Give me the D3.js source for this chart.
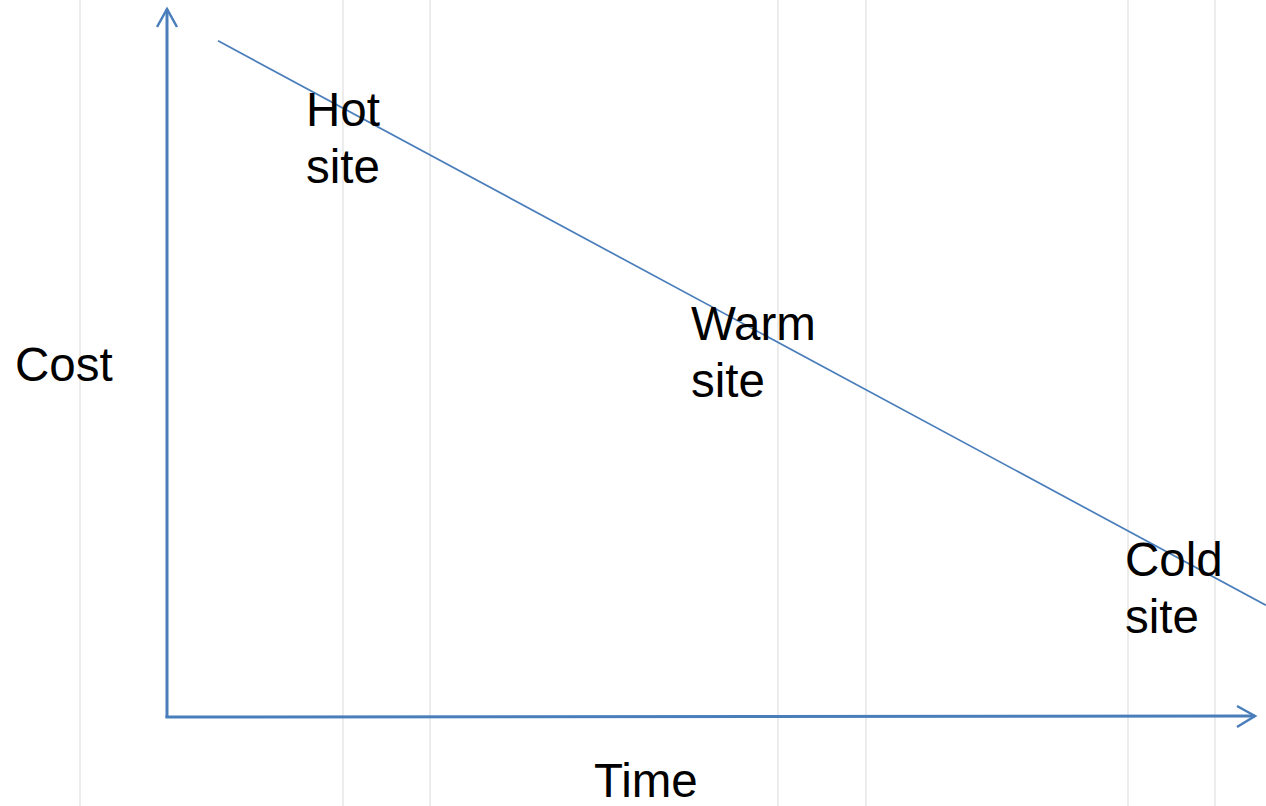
<!DOCTYPE html>
<html>
<head>
<meta charset="utf-8">
<script src="https://cdn.jsdelivr.net/npm/d3@7"></script>
<style>
  html, body { margin: 0; padding: 0; background: #ffffff; }
  svg { display: block; }
  text { font-family: "Liberation Sans", Arial, sans-serif; fill: #000; }
</style>
</head>
<body>
<script>
// ---- data ----
const gridX = [-8.0, 16.18, 24.17, 56.16, 64.25, 88.33, 96.32];
const lineTime = [4.69, 101.0];
const lineCost = [95.5, 15.8];
const siteNames = ["Hot", "Warm", "Cold"];
const siteTime = [12.78, 48.16, 88.05];
const siteCost = [83.5, 53.2, 19.9];
const axisTitles = ["Cost", "Time"];

const W = 1266, H = 806;
const x = d3.scaleLinear().domain([0, 100]).range([167, 1255]);
const y = d3.scaleLinear().domain([0, 100]).range([717, 9]);

const svg = d3.select("body").append("svg").attr("width", W).attr("height", H);

// gridlines
svg.append("g").selectAll("line").data(gridX).join("line")
  .attr("x1", d => x(d)).attr("x2", d => x(d))
  .attr("y1", 0).attr("y2", H)
  .attr("stroke", "#ececec").attr("stroke-width", 2);

const blue = "#4a7ebb";

// axes
const axisG = svg.append("g").attr("stroke", blue).attr("stroke-width", 3).attr("fill", "none");
axisG.append("line").attr("x1", x(0)).attr("y1", y(0) + 1).attr("x2", x(0)).attr("y2", y(100));
axisG.append("line").attr("x1", x(0) - 1.5).attr("y1", y(0)).attr("x2", x(100)).attr("y2", y(0) - 1);
// arrowheads
axisG.append("path").attr("d", d3.line()([[x(0) - 10, y(100) + 18], [x(0), y(100)], [x(0) + 10, y(100) + 18]]))
  .attr("stroke-width", 2.5);
axisG.append("path").attr("d", d3.line()([[x(100) - 18, y(0) - 11], [x(100), y(0) - 1], [x(100) - 18, y(0) + 10]]))
  .attr("stroke-width", 2.5);

// cost-time line
svg.append("path")
  .attr("d", d3.line().x(d => x(d[0])).y(d => y(d[1]))(lineTime.map((t, i) => [t, lineCost[i]])))
  .attr("stroke", blue).attr("stroke-width", 1.7).attr("fill", "none");

// site labels
const lab = svg.append("g").selectAll("text").data(siteNames).join("text")
  .attr("x", (d, i) => x(siteTime[i]))
  .attr("y", (d, i) => y(siteCost[i]))
  .attr("font-size", 47.5);
lab.append("tspan").text(d => d);
lab.append("tspan").attr("x", (d, i) => x(siteTime[i])).attr("dy", 57).text("site");

// axis titles
svg.append("text").attr("x", 15).attr("y", 381).attr("font-size", 47.5).text(axisTitles[0]);
svg.append("text").attr("x", 594).attr("y", 797).attr("font-size", 47.5).text(axisTitles[1]);
</script>
</body>
</html>
